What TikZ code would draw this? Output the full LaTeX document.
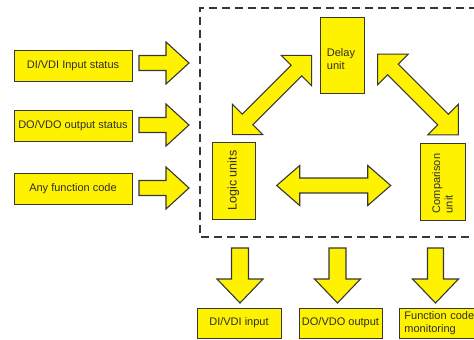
\documentclass[tikz,border=0pt]{standalone}
\usepackage{fontspec}
\setmainfont{Liberation Sans}
\begin{document}
\begin{tikzpicture}[x=1pt,y=-1pt,
  every node/.style={font=\fontsize{11}{12.5}\selectfont, text=txtgray},
  box/.style={draw=linegray, line width=0.9pt, fill=ylw, inner sep=0pt, align=center},
  blockarrow/.style={draw=linegray, line width=1.1pt, fill=ylw, line join=miter},
  dashbox/.style={draw=linegray, line width=1.1pt, dash pattern=on 8pt off 5pt}]
\definecolor{ylw}{RGB}{255,242,0}
\definecolor{linegray}{RGB}{55,55,55}
\definecolor{txtgray}{RGB}{45,45,45}
\newcommand\singlearrow[6]{%
  \draw[blockarrow, shift={(#1)}, rotate=#2] (0,-#4) -- ({#3-#6},-#4) -- ({#3-#6},-#5) -- (#3,0) -- ({#3-#6},#5) -- ({#3-#6},#4) -- (0,#4) -- cycle;}
\newcommand\doublearrow[6]{%
  \draw[blockarrow, shift={(#1)}, rotate=#2] (-#3,0) -- ({-#3+#6},-#5) -- ({-#3+#6},-#4) -- ({#3-#6},-#4) -- ({#3-#6},-#5) -- (#3,0) -- ({#3-#6},#5) -- ({#3-#6},#4) -- ({-#3+#6},#4) -- ({-#3+#6},#5) -- cycle;}
\useasboundingbox (0,0) rectangle (474,340);
% dashed frame
\coordinate (f1) at (490,8);
\coordinate (f2) at (200,8);
\coordinate (f3) at (200,237);
\coordinate (f4) at (490,237);
\draw[dashbox] (f1) -- (f2) -- (f3) -- (f4);
% input boxes
\node[box, minimum width=118pt, minimum height=31pt] (in1) at (73,65.5) {DI/VDI Input status};
\node[box, minimum width=118pt, minimum height=31pt] (in2) at (73,125.5) {DO/VDO output status};
\node[box, minimum width=118pt, minimum height=31pt] (in3) at (73,188.5) {Any function code};
% units
\node[box, minimum width=43pt, minimum height=77pt] (logic) at (233.5,180.5) {};
\node[rotate=90, font=\fontsize{12.5}{14}\selectfont] (logict) at (logic.center) {Logic units};
\node[box, minimum width=44pt, minimum height=76pt] (delay) at (342,55) {};
\node[align=left, inner sep=0pt] (delayt) at (341,59) {Delay\\unit};
\node[box, minimum width=45pt, minimum height=77pt] (comp) at (442.5,181.5) {};
\node[rotate=90, align=left, inner sep=0pt] (compt) at (442.5,183.5) {Comparison\\unit};
% output boxes
\node[box, minimum width=84pt, minimum height=30pt] (out1) at (239,323) {DI/VDI input};
\node[box, minimum width=83pt, minimum height=30pt] (out2) at (340.5,323) {DO/VDO output};
\node[box, minimum height=30pt, anchor=west, inner xsep=5pt, text width=81pt, align=left] (out3) at (399,323) {Function code\\monitoring};
% input arrows
\coordinate (ia1) at (139,63);
\coordinate (ia2) at (139,125);
\coordinate (ia3) at (139,188);
\singlearrow{ia1}{0}{50}{7.5}{21}{23}
\singlearrow{ia2}{0}{50}{7.5}{21}{23}
\singlearrow{ia3}{0}{50}{7.5}{21}{23}
% internal double arrows
\coordinate (dl) at (272,95);
\coordinate (dr) at (418,94.5);
\coordinate (dh) at (333.7,185.5);
\doublearrow{dl}{45}{56}{7.5}{21.5}{21.5}
\doublearrow{dr}{-45}{57}{7.5}{21.5}{21.5}
\doublearrow{dh}{0}{57}{7.5}{20}{23}
% output arrows
\coordinate (oa1) at (240,248);
\coordinate (oa2) at (337.5,248);
\coordinate (oa3) at (435.5,248);
\singlearrow{oa1}{-90}{55}{8.5}{23}{24}
\singlearrow{oa2}{-90}{55}{8.5}{23}{24}
\singlearrow{oa3}{-90}{55}{8}{23}{24}
\end{tikzpicture}
\end{document}
